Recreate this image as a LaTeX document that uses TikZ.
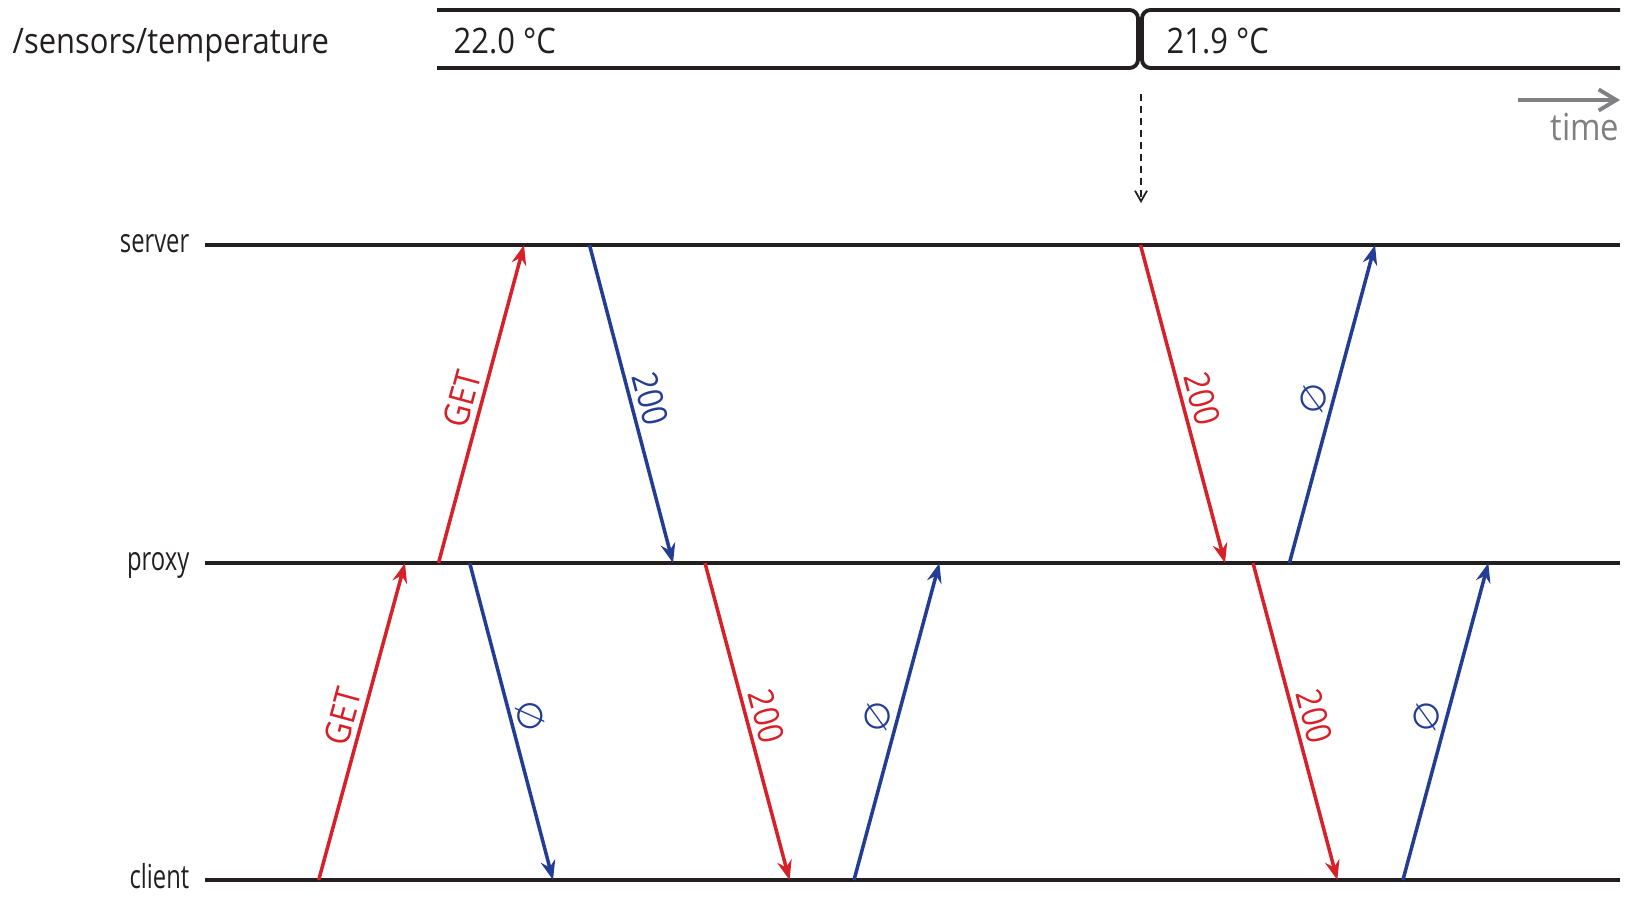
\documentclass[tikz,border=0pt]{standalone}
\usepackage{fontspec}
\setmainfont[FakeStretch=0.88]{Open Sans}
\newfontfamily\condfont[FakeStretch=0.72]{Open Sans}
\newfontfamily\symfont{DejaVu Sans}
\usetikzlibrary{arrows.meta}
\definecolor{inkblack}{RGB}{35,31,32}
\definecolor{msgred}{RGB}{215,32,40}
\definecolor{msgblue}{RGB}{35,60,148}
\definecolor{timegray}{RGB}{128,128,130}

\begin{document}
\begin{tikzpicture}[x=0.1mm, y=-0.1mm,
	lifeline/.style={line width=0.95pt, draw=inkblack},
	barline/.style={line width=1.1pt, draw=inkblack, rounded corners=2.4pt},
	who/.style={anchor=base east, font=\condfont\fontsize{9.4}{11}\selectfont, text=inkblack, inner sep=0pt},
	valtext/.style={anchor=base west, font=\fontsize{10}{12}\selectfont, text=inkblack, inner sep=0pt},
	redmsg/.style={line width=1pt, draw=msgred, -{Stealth[length=5.6pt, width=4.2pt, inset=1.9pt]}},
	bluemsg/.style={line width=1pt, draw=msgblue, -{Stealth[length=5.6pt, width=4.2pt, inset=1.9pt]}},
	msg/.style={midway, sloped, above, inner sep=1.5pt, font=\fontsize{10}{12}\selectfont},
	change/.style={line width=0.5pt, draw=inkblack, dash pattern=on 2pt off 1.4pt, -{Straight Barb[length=3pt, width=3.4pt]}}]
			\useasboundingbox (0,0) rectangle (1633,896);
			\node[valtext] (topic) at (12,53) {/sensors/temperature};
			\draw[barline] (437,10) -- (1138,10) -- (1138,68) -- (437,68);
			\draw[barline] (1620,10) -- (1142,10) -- (1142,68) -- (1620,68);
			\node[valtext] (old) at (453,53) {22.0 °C};
			\node[valtext] (new) at (1166,53) {21.9 °C};
			\coordinate (chgtop) at (1141,94);
			\coordinate (chgbot) at (1141,203);
			\draw[change] (chgtop) -- (chgbot);
			\coordinate (tstart) at (1518,100);
			\coordinate (tend) at (1620,100);
			\draw[line width=1.1pt, timegray, -{Straight Barb[length=5pt, width=6pt]}] (tstart) -- (tend);
			\node[valtext, anchor=base east, text=timegray, font=\fontsize{10.6}{12}\selectfont] (time) at (1620,140) {time};
			\node[who] (server) at (190,252) {server};
			\node[who] (proxy) at (190,570) {proxy};
			\node[who] (client) at (190,888) {client};
			\coordinate (s0) at (205,245);
			\coordinate (sE) at (1620,245);
			\coordinate (p0) at (205,563);
			\coordinate (pE) at (1620,563);
			\coordinate (c0) at (205,880);
			\coordinate (cE) at (1620,880);
			\draw[lifeline] (s0) -- (sE);
			\draw[lifeline] (p0) -- (pE);
			\draw[lifeline] (c0) -- (cE);
			\coordinate (s1) at (524,245);
			\coordinate (s2) at (589.5,245);
			\coordinate (s3) at (1140.5,245);
			\coordinate (s4) at (1375,245);
			\coordinate (p1) at (405,563);
			\coordinate (p2) at (438.5,563);
			\coordinate (p3) at (469.7,563);
			\coordinate (p4) at (673,563);
			\coordinate (p5) at (705,563);
			\coordinate (p6) at (939.4,563);
			\coordinate (p7) at (1225,563);
			\coordinate (p8) at (1253,563);
			\coordinate (p9) at (1289.4,563);
			\coordinate (p10) at (1488.3,563);
			\coordinate (c1) at (318.7,880);
			\coordinate (c2) at (553,880);
			\coordinate (c3) at (789.5,880);
			\coordinate (c4) at (854,880);
			\coordinate (c5) at (1337.3,880);
			\coordinate (c6) at (1402.9,880);
			\draw[redmsg] (p2) -- node[msg, text=msgred] (get1) {GET} (s1);
			\draw[bluemsg] (s2) -- node[msg, text=msgblue] (ok1) {200} (p4);
			\draw[redmsg] (s3) -- node[msg, text=msgred] (ok2) {200} (p7);
			\draw[bluemsg] (p9) -- node[msg, text=msgblue, font=\symfont\fontsize{10}{12}\selectfont] (nil1) {∅} (s4);
			\draw[redmsg] (c1) -- node[msg, text=msgred] (get2) {GET} (p1);
			\draw[bluemsg] (p3) -- node[msg, text=msgblue, font=\symfont\fontsize{10}{12}\selectfont] (nil2) {∅} (c2);
			\draw[redmsg] (p5) -- node[msg, text=msgred] (ok3) {200} (c3);
			\draw[bluemsg] (c4) -- node[msg, text=msgblue, font=\symfont\fontsize{10}{12}\selectfont] (nil3) {∅} (p6);
			\draw[redmsg] (p8) -- node[msg, text=msgred] (ok4) {200} (c5);
			\draw[bluemsg] (c6) -- node[msg, text=msgblue, font=\symfont\fontsize{10}{12}\selectfont] (nil4) {∅} (p10);
			\end{tikzpicture}
\end{document}
